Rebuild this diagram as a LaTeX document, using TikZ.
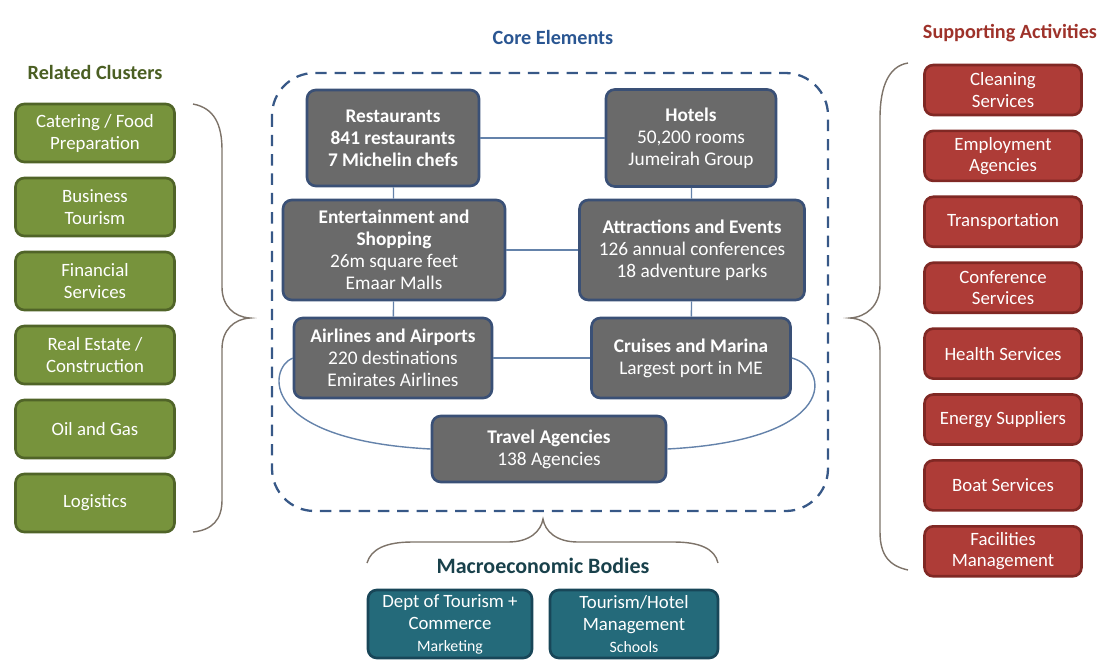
\documentclass[tikz,border=0pt]{standalone}
\usepackage{fontspec}
\setmainfont{Carlito}
\definecolor{coreGray}{RGB}{106,106,106}
\definecolor{coreLine}{RGB}{58,80,118}
\definecolor{coreTitle}{RGB}{42,86,146}
\definecolor{clusterGreen}{RGB}{119,147,60}
\definecolor{clusterLine}{RGB}{80,100,40}
\definecolor{clusterTitle}{RGB}{75,95,35}
\definecolor{supportRed}{RGB}{174,60,55}
\definecolor{supportLine}{RGB}{128,40,36}
\definecolor{supportTitle}{RGB}{158,50,42}
\definecolor{macroTeal}{RGB}{36,106,122}
\definecolor{macroLine}{RGB}{24,70,88}
\definecolor{macroTitle}{RGB}{25,65,75}
\definecolor{linkBlue}{RGB}{100,130,170}
\definecolor{frameBlue}{RGB}{55,88,135}
\definecolor{braceGray}{RGB}{125,115,105}

\begin{document}
\begin{tikzpicture}[x=0.02cm, y=-0.02cm,
            every node/.style = {align=center, text=white, font=\fontsize{11}{12.5}\selectfont},
            box/.style        = {line width=1.5pt, rounded corners=5pt, inner sep=2pt},
            core/.style       = {box, draw=coreLine, fill=coreGray},
            cluster/.style    = {box, draw=clusterLine, fill=clusterGreen, minimum width=3.18cm, minimum height=1.16cm, font=\fontsize{10.7}{12.5}\selectfont},
            support/.style    = {box, draw=supportLine, fill=supportRed, minimum width=3.14cm, minimum height=1.0cm, font=\fontsize{10.7}{12}\selectfont},
            macro/.style      = {box, draw=macroLine, fill=macroTeal, minimum height=1.36cm, font=\fontsize{10.7}{12.5}\selectfont},
            heading/.style    = {font=\bfseries\fontsize{11.5}{13}\selectfont},
            link/.style       = {draw=linkBlue, line width=0.8pt},
            curly/.style      = {draw=braceGray, line width=0.8pt}
                        ]
            \useasboundingbox (0,0) rectangle (1108,664);
            % headings
            \node[heading, text=coreTitle] (coreT) at (553,37) {Core Elements};
            \node[heading, text=clusterTitle] (clusT) at (95,72) {Related Clusters};
            \node[heading, text=supportTitle] (suppT) at (1010,33) {Supporting Activities};
            \node[heading, text=macroTitle, font=\bfseries\fontsize{12.5}{14}\selectfont] (macT) at (543,566) {Macroeconomic Bodies};
            % core frame
            \draw[frameBlue, line width=1.3pt, dash pattern=on 6.5pt off 4.5pt, rounded corners=0.85cm] (272,73) rectangle (828,511);
            % core elements
            \node[core, minimum width=3.44cm, minimum height=1.92cm] (rest) at (393,138)
                {\textbf{Restaurants}\\\textbf{841 restaurants}\\\textbf{7 Michelin chefs}};
            \node[core, minimum width=3.40cm, minimum height=1.94cm] (hotel) at (691,138)
                {\textbf{Hotels}\\50,200 rooms\\Jumeirah Group};
            \node[core, minimum width=4.44cm, minimum height=2.0cm] (ent) at (394,250)
                {\textbf{Entertainment and}\\\textbf{Shopping}\\26m square feet\\Emaar Malls};
            \node[core, minimum width=4.50cm, minimum height=2.0cm] (attr) at (692,250)
                {\textbf{Attractions and Events}\\126 annual conferences\\18 adventure parks};
            \node[core, minimum width=3.96cm, minimum height=1.6cm] (air) at (393,358)
                {\textbf{Airlines and Airports}\\220 destinations\\Emirates Airlines};
            \node[core, minimum width=3.98cm, minimum height=1.6cm] (cruise) at (691,358)
                {\textbf{Cruises and Marina}\\Largest port in ME};
            \node[core, minimum width=4.68cm, minimum height=1.32cm] (travel) at (549,449)
                {\textbf{Travel Agencies}\\138 Agencies};
            % links
            \draw[link] (rest) -- (hotel);
            \draw[link] (ent) -- (attr);
            \draw[link] (air) -- (cruise);
            \draw[link] (rest) -- (ent);
            \draw[link] (ent) -- (air);
            \draw[link] (hotel) -- (attr);
            \draw[link] (attr) -- (cruise);
            \draw[link] (air.west) .. controls (268,368) and (258,440) .. (travel.west);
            \draw[link] (cruise.east) .. controls (830,368) and (840,440) .. (travel.east);
            % related clusters
            \foreach \txt [count=\i] in {Catering / Food\\Preparation, Business\\Tourism, Financial\\Services,
                                         Real Estate /\\Construction, Oil and Gas, Logistics}
                \node[cluster] (cl\i) at (95,59+74*\i) {\txt};
            % supporting activities
            \foreach \txt [count=\i] in {Cleaning\\Services, Employment\\Agencies, Transportation, Conference\\Services,
                                         Health Services, Energy Suppliers, Boat Services, Facilities\\Management}
                \node[support] (sa\i) at (1003,24.1+65.9*\i) {\txt};
            % macroeconomic bodies
            \node[macro, minimum width=3.28cm] (dept) at (450,624) {Dept of Tourism +\\Commerce\\{\small Marketing}};
            \node[macro, minimum width=3.36cm] (school) at (634,624) {Tourism/Hotel\\Management\\{\small Schools}};
            % braces
            \draw[curly] (193,104) .. controls (214,108) and (222,124) .. (222,150) -- (222,287)
                .. controls (222,306) and (234,317) .. (250,318) .. controls (234,319) and (222,330) .. (222,349)
                -- (222,500) .. controls (222,520) and (212,530) .. (193,532);
            \draw[curly] (908,63) .. controls (889,66) and (880,86) .. (880,118) -- (880,285)
                .. controls (880,306) and (866,317) .. (850,318) .. controls (866,319) and (880,330) .. (880,351)
                -- (880,532) .. controls (880,556) and (890,566) .. (908,570);
            \draw[curly] (367,563) .. controls (371,549) and (386,542) .. (412,542) -- (508,542)
                .. controls (530,542) and (541,531) .. (543,519) .. controls (545,531) and (556,542) .. (578,542)
                -- (674,542) .. controls (700,542) and (715,549) .. (718,563);
    \end{tikzpicture}
\end{document}
